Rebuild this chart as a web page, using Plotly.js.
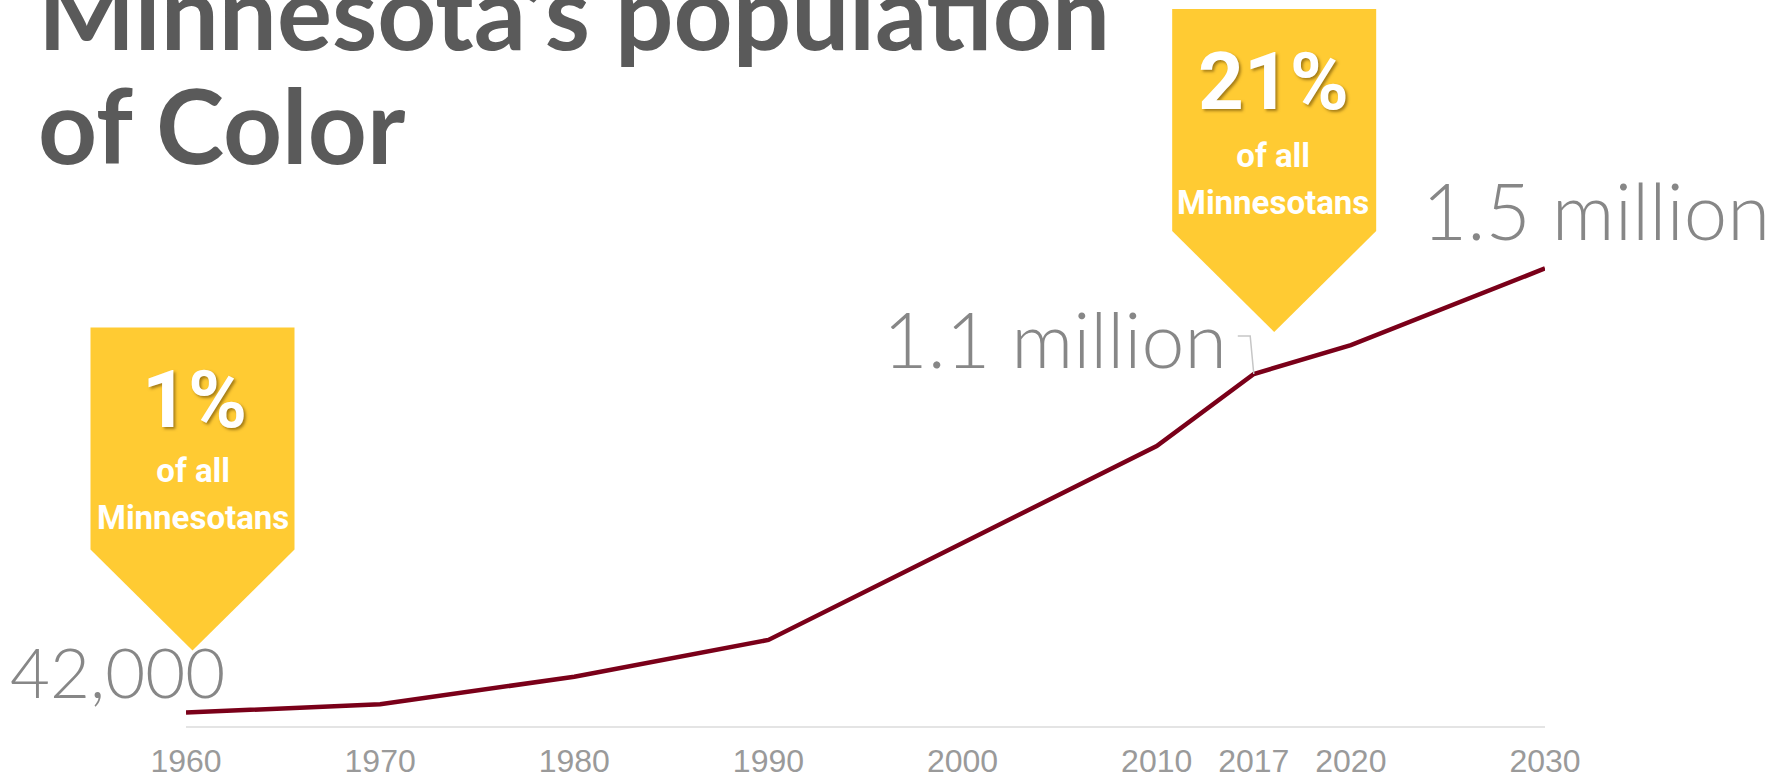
<!DOCTYPE html>
<html>
<head>
<meta charset="utf-8">
<script src="https://cdn.plot.ly/plotly-3.0.1.min.js"></script>
<style>
  html, body { margin: 0; padding: 0; background: #ffffff; }
  #chart { width: 1773px; height: 778px; }
</style>
</head>
<body>
<div id="chart"></div>
<script>
// ---- data ----
const years = [1960, 1970, 1980, 1990, 2000, 2010, 2017, 2020, 2030];
const popOfColor = [42000, 68000, 154000, 269000, 572000, 875000, 1100000, 1190000, 1430000];
const tickLabels = ["1960", "1970", "1980", "1990", "2000", "2010", "2017", "2020", "2030"];

const valueLabelYears = [1960, 2017, 2030];
const valueLabelTexts = ["42,000", "1.1 million", "1.5 million"];

const shareYears = [1960, 2017];
const shareTexts = ["1%", "21%"];
const shareSubLines = ["of all", "Minnesotans"];

const titleLines = ["Minnesota\u2019s population", "of Color"];

// ---- axis placement: decades evenly spaced, an in-between year sits midway ----
function axisPos(year) {
  const lo = Math.floor(year / 10) * 10;
  return (year % 10 === 0) ? (lo - 1960) / 10 : (lo - 1960) / 10 + 0.5;
}
const xs = years.map(axisPos);
const valOf = y => popOfColor[years.indexOf(y)];

const X_RANGE = [0, 7];
const Y_RANGE = [0, 2000000];
const toPaperX = p => (p - X_RANGE[0]) / (X_RANGE[1] - X_RANGE[0]);
const toPaperY = v => (v - Y_RANGE[0]) / (Y_RANGE[1] - Y_RANGE[0]);

// ---- styles ----
const MAROON = '#7a0019';
const GOLD = '#ffcb33';
const LABEL_GREY = '#878787';
const BOLDFACE = 'Roboto, "Liberation Sans", Arial, sans-serif';
const THIN = 'Lato, "Open Sans", sans-serif';

// wrap lines so glyphs can be larger than the line pitch
const sized = (lines, px) => lines.map(t => `<span style="font-size:${px}px">${t}</span>`).join('<br>');

// callout pentagon (pixel offsets, y positive = up), given tip offset from its data point
function calloutPath(tipDx, tipUp) {
  const W = 204, H = 222, D = 101;
  const L = tipDx - W / 2, R = tipDx + W / 2;
  const bot = tipUp + D, top = tipUp + D + H;
  return `M ${L} ${top} L ${R} ${top} L ${R} ${bot} L ${tipDx} ${tipUp} L ${L} ${bot} Z`;
}
const calloutTips = { 1960: [6.5, 62], 2017: [20.4, 42] };

const shapes = shareYears.map(y => ({
  type: 'path',
  xref: 'paper', yref: 'paper',
  xsizemode: 'pixel', ysizemode: 'pixel',
  xanchor: toPaperX(axisPos(y)), yanchor: toPaperY(valOf(y)),
  path: calloutPath(calloutTips[y][0], calloutTips[y][1]),
  fillcolor: GOLD,
  line: { width: 0 },
  layer: 'below'
}));

// leader line from the 2017 point to its label
shapes.push({
  type: 'path',
  xref: 'x', yref: 'y',
  xsizemode: 'pixel', ysizemode: 'pixel',
  xanchor: axisPos(2017), yanchor: valOf(2017),
  path: 'M 0 0 L -3.6 38 L -16 38',
  line: { color: '#c6c6c6', width: 1.5 },
  layer: 'above'
});

const annotations = [];

// value labels
const valueStyle = {
  1960: { xanchor: 'right', xshift: 41, yshift: 41, size: 69 },
  2017: { xanchor: 'right', xshift: -25, yshift: 36, size: 77 },
  2030: { xanchor: 'left', xshift: -125, yshift: 58, size: 78 }
};
valueLabelYears.forEach((y, i) => {
  const s = valueStyle[y];
  annotations.push({
    x: axisPos(y), y: valOf(y), xref: 'x', yref: 'y',
    text: valueLabelTexts[i], showarrow: false,
    xanchor: s.xanchor, yanchor: 'middle', xshift: s.xshift, yshift: s.yshift,
    font: { family: THIN, size: s.size, color: LABEL_GREY, weight: 300 }
  });
});

// share callout texts
const shareStyle = {
  1960: { xshift: 8, bigShift: 313, subShift: 219 },
  2017: { xshift: 20, bigShift: 292, subShift: 195 }
};
shareYears.forEach((y, i) => {
  const s = shareStyle[y];
  annotations.push({
    x: axisPos(y), y: valOf(y), xref: 'x', yref: 'y',
    text: shareTexts[i], showarrow: false,
    xanchor: 'center', yanchor: 'middle', xshift: s.xshift, yshift: s.bigShift,
    font: { family: BOLDFACE, size: 80, color: '#ffffff', weight: 700,
            shadow: '2px 2px 3px rgba(90,60,0,0.55)' }
  });
  annotations.push({
    x: axisPos(y), y: valOf(y), xref: 'x', yref: 'y',
    text: sized(shareSubLines, 33), showarrow: false,
    xanchor: 'center', yanchor: 'middle', xshift: s.xshift - 1, yshift: s.subShift,
    font: { family: BOLDFACE, size: 36, color: '#ffffff', weight: 700 }
  });
});

const trace = {
  type: 'scatter',
  mode: 'lines',
  x: xs,
  y: popOfColor,
  line: { color: MAROON, width: 4.5 },
  hoverinfo: 'skip',
  cliponaxis: false
};

const layout = {
  width: 1773,
  height: 778,
  margin: { l: 186, r: 228, t: 86, b: 52, pad: 0 },
  paper_bgcolor: '#ffffff',
  plot_bgcolor: '#ffffff',
  showlegend: false,
  title: {
    text: sized(titleLines, 103),
    font: { family: 'Lato, "Open Sans", sans-serif', size: 88, color: '#5a5a5a', weight: 700 },
    xref: 'container', yref: 'container',
    x: 38 / 1773, xanchor: 'left',
    y: 0.9363, yanchor: 'bottom',
    automargin: false
  },
  xaxis: {
    range: X_RANGE,
    tickmode: 'array',
    tickvals: xs,
    ticktext: tickLabels,
    tickfont: { family: '"Liberation Sans", Arial, sans-serif', size: 32, color: '#9a9a9a' },
    ticks: '',
    ticklabelstandoff: 6,
    showgrid: false,
    zeroline: false,
    showline: true,
    linecolor: '#e4e4e4',
    linewidth: 2,
    automargin: false,
    fixedrange: true
  },
  yaxis: {
    range: Y_RANGE,
    visible: false,
    showgrid: false,
    zeroline: false,
    fixedrange: true,
    automargin: false
  },
  shapes: shapes,
  annotations: annotations
};

Plotly.newPlot('chart', [trace], layout, { displayModeBar: false, staticPlot: true });
</script>
</body>
</html>
